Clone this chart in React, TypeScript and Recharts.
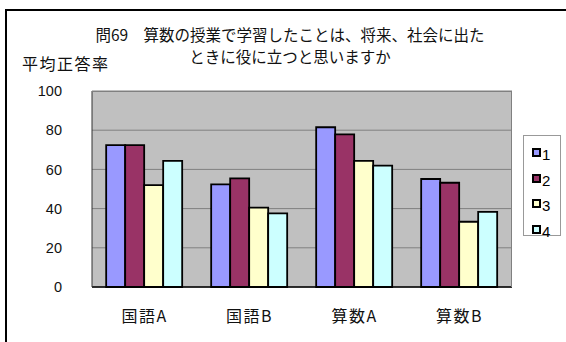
import { BarChart, Bar, XAxis, YAxis, CartesianGrid, Legend } from "recharts";

const categories = ["国語A", "国語B", "算数A", "算数B"];
const answer1 = [72.4, 52.4, 81.5, 55.1];
const answer2 = [72.4, 55.4, 77.9, 53.2];
const answer3 = [52.0, 40.5, 64.4, 33.3];
const answer4 = [64.3, 37.6, 61.9, 38.3];
const seriesNames = ["1", "2", "3", "4"];
const yTicks = [0, 20, 40, 60, 80, 100];

const colors = ["#9999FF", "#993366", "#FFFFCC", "#CCFFFF"];
const font = "'Liberation Sans', 'Noto Sans CJK JP', sans-serif";
const cjk = "'Noto Sans CJK JP', sans-serif";

const data = categories.map((name, i) => ({
  name,
  s1: answer1[i],
  s2: answer2[i],
  s3: answer3[i],
  s4: answer4[i],
}));

const LegendBox = () => (
  <div
    style={{
      width: 38,
      height: 101,
      border: "1px solid #999",
      background: "#fff",
      boxSizing: "border-box",
      paddingTop: 8,
    }}
  >
    {seriesNames.map((n, i) => (
      <div
        key={n}
        style={{ height: 25.5, display: "flex", alignItems: "flex-start", paddingLeft: 8 }}
      >
        <span
          style={{
            width: 5,
            height: 5,
            marginTop: 4,
            background: colors[i],
            border: "2px solid #000",
            display: "inline-block",
          }}
        />
        <span style={{ fontFamily: font, fontSize: 15, marginLeft: 1, marginTop: 3, lineHeight: "16px" }}>
          {n}
        </span>
      </div>
    ))}
  </div>
);

const App = () => {
  return (
    <div
      style={{
        position: "absolute",
        left: 0,
        top: 0,
        width: 566,
        height: 342,
        overflow: "hidden",
        background: "#fff",
      }}
    >
      <div
        style={{
          position: "absolute",
          left: 5,
          top: 9,
          width: 700,
          height: 500,
          border: "2px solid #000",
        }}
      />
      <div
        style={{
          position: "absolute",
          left: 0,
          width: 580,
          top: 23,
          textAlign: "center",
          fontFamily: cjk,
          fontSize: 15.5,
          lineHeight: "22px",
          color: "#111",
        }}
      >
        問69　算数の授業で学習したことは、将来、社会に出た
        <br />
        ときに役に立つと思いますか
      </div>
      <div
        style={{
          position: "absolute",
          left: 22,
          top: 52,
          fontFamily: cjk,
          fontSize: 16,
          letterSpacing: 1.5,
          lineHeight: "22px",
          color: "#111",
        }}
      >
        平均正答率
      </div>
      <div style={{ position: "absolute", left: 0, top: 0 }}>
        <BarChart
          width={566}
          height={342}
          data={data}
          margin={{ top: 91, right: 54, bottom: 25, left: 32 }}
          barCategoryGap="13.5%"
          barGap={0}
        >
          <CartesianGrid
            vertical={false}
            stroke="#808080"
            strokeWidth={1}
            fill="#C0C0C0"
            fillOpacity={1}
          />
          <XAxis
            dataKey="name"
            height={30}
            tickSize={0}
            tickMargin={24}
            axisLine={{ stroke: "#000", strokeWidth: 1.5 }}
            tick={{ fontFamily: cjk, fontSize: 16, fill: "#111", letterSpacing: 1.5 }}
          />
          <YAxis
            width={60}
            domain={[0, 100]}
            ticks={yTicks}
            tickSize={0}
            tickMargin={30}
            axisLine={{ stroke: "#333", strokeWidth: 1 }}
            tick={{ fontFamily: font, fontSize: 14.5, fill: "#111" }}
          />
          <Legend
            layout="vertical"
            align="center"
            verticalAlign="middle"
            content={() => <LegendBox />}
            wrapperStyle={{ left: 523, top: 135, width: 38, height: 101 }}
          />
          {["s1", "s2", "s3", "s4"].map((k, i) => (
            <Bar
              key={k}
              dataKey={k}
              name={seriesNames[i]}
              fill={colors[i]}
              stroke="#000"
              strokeWidth={1.8}
              isAnimationActive={false}
            />
          ))}
        </BarChart>
      </div>
      <div
        style={{
          position: "absolute",
          left: 92,
          top: 91,
          width: 420,
          height: 196,
          borderTop: "1px solid #808080",
          borderRight: "1px solid #808080",
          boxSizing: "border-box",
          pointerEvents: "none",
        }}
      />
    </div>
  );
};

export default App;
